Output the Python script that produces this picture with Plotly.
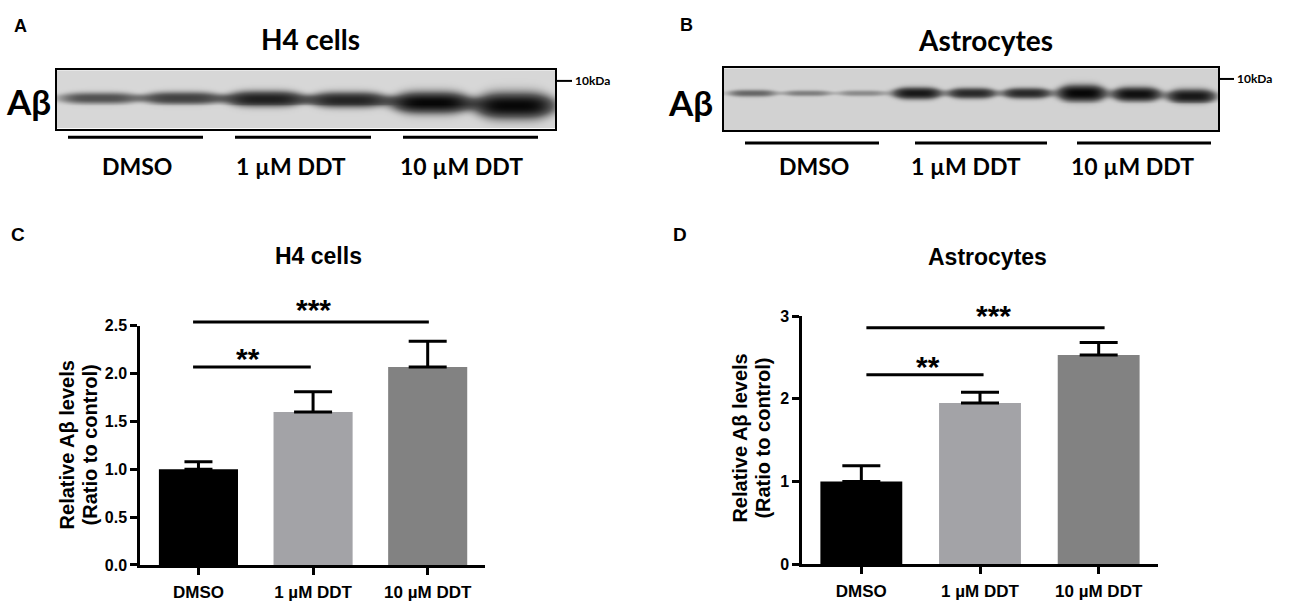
import numpy as np
import plotly.graph_objects as go

W, H = 1300, 608

# ---------------- bar chart data ----------------
groups = ["DMSO", "1 µM DDT", "10 µM DDT"]
bar_colors = ["#000000", "#a3a3a7", "#828282"]

h4_mean = [1.00, 1.60, 2.07]
h4_err = [0.08, 0.21, 0.27]
astro_mean = [1.00, 1.95, 2.53]
astro_err = [0.19, 0.13, 0.15]

# significance bars: (from, to, height) and star labels (x, y, text)
h4_brackets = [(-0.06, 2.01, 2.54), (-0.06, 0.98, 2.07)]
h4_stars = [(1.00, 2.74, "***"), (0.43, 2.23, "**")]
astro_brackets = [(0.03, 2.05, 2.86), (0.03, 1.03, 2.29)]
astro_stars = [(1.11, 3.09, "***"), (0.56, 2.47, "**")]

# ---------------- western blot data ----------------
# band darkness per lane, band centre (px below blot top), band thickness (px)
h4_lane_int = [0.55, 0.65, 0.85, 0.82, 1.00, 1.00]
h4_lane_y = [28, 28, 29, 30, 33, 36]
h4_lane_t = [10, 11, 14, 14, 19, 23]

astro_lane_int = [0.45, 0.35, 0.30, 0.90, 0.80, 0.80, 1.00, 0.95, 0.90]
astro_lane_y = [25, 25, 25, 25, 25, 25, 25, 26, 28]
astro_lane_t = [6, 5, 5, 10, 9, 9, 14, 12, 12]

CHART_FONT = "Liberation Sans, Arial, sans-serif"
BLOT_FONT = "Lato, Open Sans, sans-serif"


def px_x(x):
    return x / W


def px_y(y):
    return 1 - y / H


def blot_image(intens, ycen, thick, width, height, band_frac):
    n = len(intens)
    lane = width / n
    X, Y = np.meshgrid(np.arange(width) + 0.5, np.arange(height) + 0.5)
    z = np.zeros_like(X)
    for i in range(n):
        xc = (i + 0.5) * lane
        hx = np.exp(-np.log(2) * np.abs((X - xc) / (band_frac * lane / 2)) ** 4)
        half = thick[i] / 2 * (0.55 + 0.45 * hx)
        vy = np.exp(-np.log(2) * np.abs((Y - ycen[i]) / half) ** 2.5)
        z += intens[i] * hx * vy
    return np.clip(z, 0, 1)


fig = go.Figure()

# bars + error bars
for mean, err, xa, ya, caps in [(h4_mean, h4_err, "x", "y", [14, 19, 19]),
                                (astro_mean, astro_err, "x2", "y2", [19, 19, 19])]:
    for i, g in enumerate(groups):
        fig.add_trace(go.Bar(
            x=[g], y=[mean[i]], width=0.69, xaxis=xa, yaxis=ya,
            marker=dict(color=bar_colors[i], line=dict(width=0)),
            error_y=dict(type="data", array=[err[i]], arrayminus=[0], symmetric=False,
                         color="black", thickness=3, width=caps[i]),
            showlegend=False, hoverinfo="skip"))

# blots
blots = [
    (h4_lane_int, h4_lane_y, h4_lane_t, 498, 60, 0.9, "x3", "y3", "#d7d7d7"),
    (astro_lane_int, astro_lane_y, astro_lane_t, 494, 64, 0.82, "x4", "y4", "#d2d2d2"),
]
for intens, yc, th, bw, bh, frac, xa, ya, bg in blots:
    z = blot_image(intens, yc, th, bw, bh, frac)
    fig.add_trace(go.Heatmap(
        z=z, x=np.arange(bw) + 0.5, y=np.arange(bh) + 0.5, xaxis=xa, yaxis=ya,
        colorscale=[[0, bg], [0.5, "#5a5a5a"], [1, "#070707"]], zmin=0, zmax=1,
        zsmooth="best", showscale=False, hoverinfo="skip"))

chart_axis = dict(showline=True, linecolor="black", linewidth=2.5, ticks="outside",
                  ticklen=7, tickwidth=2.5, tickcolor="black", showgrid=False,
                  zeroline=False, layer="above traces")
blot_axis = dict(showline=True, mirror=True, linecolor="black", linewidth=1.5,
                 showticklabels=False, ticks="", showgrid=False, zeroline=False)
tick_x = dict(family=CHART_FONT, size=17, color="black", weight="bold")
tick_y = dict(family=CHART_FONT, size=16, color="black", weight="bold")

# chart frames (pixel rows of value 0 and of the top tick), plus an invisible
# taller axis with the same scale so the significance marks above the top tick show
C_y0, C_top, C_max = 573, 327, 2.5
D_y0, D_top, D_max = 572, 317, 3.0
ext_top = 285

fig.update_layout(
    width=W, height=H, margin=dict(l=0, r=0, t=0, b=0),
    paper_bgcolor="white", plot_bgcolor="rgba(0,0,0,0)", barmode="overlay",
    xaxis=dict(chart_axis, domain=[px_x(140), px_x(485)], range=[-0.51, 2.5],
               anchor="y", tickfont=tick_x, ticklabelstandoff=3),
    yaxis=dict(chart_axis, domain=[px_y(C_y0), px_y(C_top)], range=[0, C_max], anchor="x",
               tickvals=[0, 0.5, 1.0, 1.5, 2.0, 2.5], tickformat=".1f", tickfont=tick_y),
    yaxis5=dict(domain=[px_y(C_y0), px_y(ext_top)], anchor="x", visible=False,
                range=[0, C_max * (C_y0 - ext_top) / (C_y0 - C_top)]),
    xaxis2=dict(chart_axis, domain=[px_x(802), px_x(1158)], range=[-0.5, 2.5],
                anchor="y2", tickfont=tick_x, ticklabelstandoff=3),
    yaxis2=dict(chart_axis, domain=[px_y(D_y0), px_y(D_top)], range=[0, D_max], anchor="x2",
                tickvals=[0, 1, 2, 3], tickfont=tick_y),
    yaxis6=dict(domain=[px_y(D_y0), px_y(ext_top)], anchor="x2", visible=False,
                range=[0, D_max * (D_y0 - ext_top) / (D_y0 - D_top)]),
    xaxis3=dict(blot_axis, domain=[px_x(57), px_x(555)], range=[0, 498], anchor="y3"),
    yaxis3=dict(blot_axis, domain=[px_y(124), px_y(64)], range=[60, 0], anchor="x3"),
    xaxis4=dict(blot_axis, domain=[px_x(724), px_x(1218)], range=[0, 494], anchor="y4"),
    yaxis4=dict(blot_axis, domain=[px_y(126), px_y(62)], range=[64, 0], anchor="x4"),
)

ann = []
shapes = []

# significance bars and stars
for brackets, stars, xa, ya in [(h4_brackets, h4_stars, "x", "y5"),
                                (astro_brackets, astro_stars, "x2", "y6")]:
    for x0, x1, hgt in brackets:
        ann.append(dict(x=x1, y=hgt, ax=x0, ay=hgt, xref=xa, yref=ya, axref=xa, ayref=ya,
                        text="", showarrow=True, arrowhead=0, arrowwidth=3,
                        arrowcolor="black"))
    for sx, sy, s in stars:
        ann.append(dict(x=sx, y=sy, xref=xa, yref=ya, text=s, showarrow=False, yshift=-7,
                        font=dict(family=CHART_FONT, size=30, color="black", weight="bold")))


def label(text, x, y, size, family, xanchor="center", angle=0):
    ann.append(dict(x=px_x(x), y=px_y(y), xref="paper", yref="paper", text=text,
                    showarrow=False, xanchor=xanchor, yanchor="middle", textangle=angle,
                    font=dict(family=family, size=size, color="black", weight="bold")))


# panel letters
label("A", 20, 19, 18, CHART_FONT)
label("B", 686, 18, 18, CHART_FONT)
label("C", 18, 233, 19, CHART_FONT)
label("D", 680, 233, 19, CHART_FONT)

# chart titles and y labels
label("H4 cells", 318, 255, 23, CHART_FONT)
label("Astrocytes", 987, 256, 23, CHART_FONT)
for x0, yc in [(67, 450), (740, 443)]:
    label("Relative Aβ levels", x0, yc, 20, CHART_FONT, angle=-90)
    label("(Ratio to control)", x0 + 23, yc, 20, CHART_FONT, angle=-90)

# blot titles and labels
label("H4 cells", 310, 32, 28, BLOT_FONT)
label("Astrocytes", 985, 33, 28, BLOT_FONT)
label("Aβ", 28, 96, 35, BLOT_FONT)
label("Aβ", 690, 97, 35, BLOT_FONT)
label("10kDa", 573, 75, 12, BLOT_FONT, xanchor="left")
label("10kDa", 1235, 73, 12, BLOT_FONT, xanchor="left")
shapes.append(dict(type="line", xref="paper", yref="paper", x0=px_x(556), x1=px_x(572),
                   y0=px_y(75), y1=px_y(75), line=dict(color="black", width=2)))
shapes.append(dict(type="line", xref="paper", yref="paper", x0=px_x(1219), x1=px_x(1234),
                   y0=px_y(73), y1=px_y(73), line=dict(color="black", width=2)))

# group underlines and names below the blots
blot_groups = [
    ("x3", 133, 163, [(11, 146), (178, 314), (346, 481)], [80, 234, 404]),
    ("x4", 139, 163, [(21, 155), (191, 323), (353, 487)], [90, 242, 408]),
]
for xa, ly, ty, spans, centers in blot_groups:
    for (a, b), c, g in zip(spans, centers, groups):
        shapes.append(dict(type="line", xref=xa, yref="paper", x0=a, x1=b,
                           y0=px_y(ly), y1=px_y(ly), line=dict(color="black", width=3)))
        ann.append(dict(x=c, y=px_y(ty), xref=xa, yref="paper", text=g, showarrow=False,
                        yanchor="middle",
                        font=dict(family=BLOT_FONT, size=23, color="black", weight="bold")))

fig.update_layout(annotations=ann, shapes=shapes)

fig.write_html("out.html", config={"displayModeBar": False},
               post_script="document.body.style.margin='0';")
